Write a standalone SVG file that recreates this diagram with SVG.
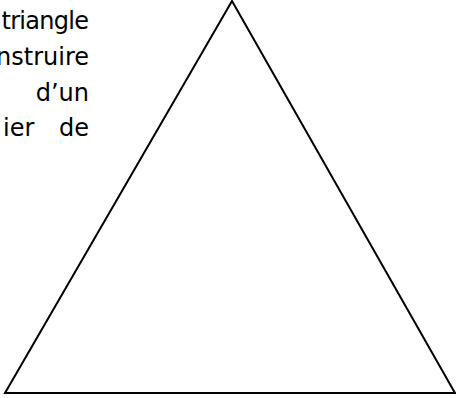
<svg xmlns="http://www.w3.org/2000/svg" width="456" height="398" viewBox="0 0 456 398">
<style>
.t{font-family:"DejaVu Sans","Liberation Sans",sans-serif;font-size:24px;fill:#000}
</style>
<rect width="456" height="398" fill="#fff"/>
<g id="text">
<text class="t" x="1.5" y="29" textLength="87.5" lengthAdjust="spacing">triangle</text>
<text class="t" x="89" y="65" text-anchor="end">nstruire</text>
<text class="t" x="89" y="100.5" text-anchor="end">d’un</text>
<text class="t" x="3" y="136">ier</text>
<text class="t" x="89" y="136" text-anchor="end">de</text>
</g>
<g id="triangle">
<polygon points="232,1 5,393 455,393" fill="none" stroke="#000" stroke-width="2"/>
</g>
</svg>
